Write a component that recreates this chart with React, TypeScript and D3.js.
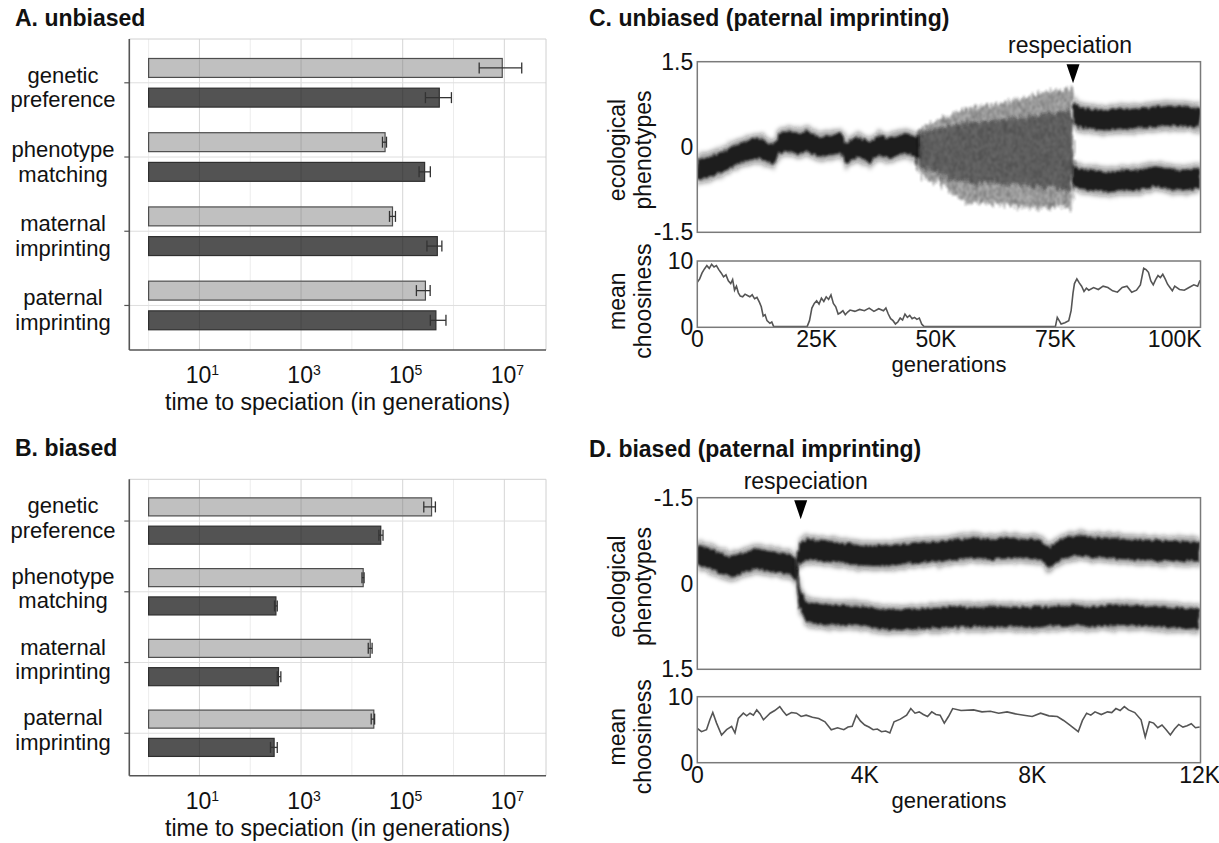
import React from 'react'
import * as d3 from 'd3'

const FONT = '"Liberation Sans", Arial, Helvetica, sans-serif'
const FS = 23

// ---- panels A / B : time to speciation ----
const categories = [
  ['genetic', 'preference'],
  ['phenotype', 'matching'],
  ['maternal', 'imprinting'],
  ['paternal', 'imprinting'],
]
const majorExp = [1, 3, 5, 7]
const minorExp = [0, 2, 4, 6]

const unbiasedLight = [9.1e6, 4.5e4, 6.3e4, 2.8e5]
const unbiasedLightLo = [3.2e6, 4.0e4, 5.5e4, 1.86e5]
const unbiasedLightHi = [2.2e7, 4.8e4, 7.2e4, 3.47e5]
const unbiasedDark = [5.25e5, 2.7e5, 4.8e5, 4.5e5]
const unbiasedDarkLo = [2.8e5, 2.1e5, 3.0e5, 3.5e5]
const unbiasedDarkHi = [9.1e5, 3.5e5, 5.9e5, 7.1e5]

const biasedLight = [3.7e5, 1.67e4, 2.3e4, 2.7e4]
const biasedLightLo = [2.6e5, 1.58e4, 2.1e4, 2.4e4]
const biasedLightHi = [4.4e5, 1.74e4, 2.5e4, 2.8e4]
const biasedDark = [3.7e4, 320, 360, 295]
const biasedDarkLo = [3.4e4, 300, 340, 250]
const biasedDarkHi = [4.1e4, 340, 400, 340]

// ---- panel C : unbiased, paternal imprinting (generations in K) ----
const phenoCSingle = [
  [0, -0.4], [2, -0.36], [4, -0.3], [5.4, -0.26], [7, -0.18], [8.9, -0.11], [10.5, -0.06],
  [12.4, -0.02], [13.5, -0.04], [14.5, -0.08], [15.9, -0.14], [16.5, -0.05], [17.3, 0.06],
  [18.5, 0.1], [20.1, 0.09], [21.5, 0.05], [22.9, 0.12], [24, 0.06], [25.7, 0.0], [27, 0.02],
  [28.5, 0.03], [29.9, 0.09], [30.6, 0.0], [31.3, -0.14], [32.3, -0.05], [33.4, 0.0],
  [34.8, -0.04], [36.2, -0.11], [37.2, -0.02], [38.3, 0.03], [39.7, -0.02], [41.1, 0.0],
  [42.5, 0.04], [43.9, 0.06], [45, 0.02], [46.5, 0.0],
]
const spreadGensC = [46, 48, 51, 54.4, 57.9, 61.4, 64.9, 68.4, 71.9, 75.4, 78.6]
const spreadTopC = [0.26, 0.38, 0.5, 0.62, 0.71, 0.74, 0.8, 0.86, 0.94, 1.0, 1.05]
const spreadBottomC = [-0.4, -0.55, -0.64, -0.87, -0.99, -0.99, -1.02, -1.05, -1.08, -1.05, -1.12]
const spreadCoreTopC = [0.2, 0.26, 0.34, 0.4, 0.44, 0.46, 0.5, 0.53, 0.56, 0.6, 0.64]
const spreadCoreBottomC = [-0.32, -0.4, -0.48, -0.58, -0.62, -0.64, -0.66, -0.68, -0.7, -0.72, -0.76]
const phenoCUpper = [
  [78.7, 0.62], [80, 0.52], [82, 0.5], [84, 0.48], [86, 0.47], [88, 0.5], [90, 0.49],
  [92, 0.5], [94, 0.52], [96, 0.53], [98, 0.55], [100, 0.55], [102, 0.54], [104, 0.52], [105.4, 0.52],
]
const phenoCLower = [
  [78.7, -0.5], [80, -0.56], [82, -0.58], [84, -0.6], [86, -0.62], [88, -0.6], [90, -0.58],
  [92, -0.58], [94, -0.55], [96, -0.52], [98, -0.55], [100, -0.57], [102, -0.58], [104, -0.56], [105.4, -0.56],
]
const choosinessC = [
  [0, 6.8], [0.5, 7.3], [1, 8.2], [1.5, 8.8], [2, 9.3], [2.5, 8.9], [3, 9.5], [3.5, 9.1], [4, 9.3],
  [4.5, 8.7], [5, 8.2], [5.5, 7.6], [6, 7.9], [6.5, 7.0], [7, 6.6], [7.4, 7.2], [7.8, 5.6], [8.2, 6.2],
  [8.6, 5.2], [9, 4.7], [9.5, 4.6], [10, 5.0], [10.5, 4.8], [11, 4.6], [11.5, 4.9], [12, 4.3],
  [12.5, 4.5], [13, 3.8], [13.4, 3.1], [13.8, 1.7], [14.2, 1.9], [14.6, 1.0], [15.2, 0.6], [15.6, 0.8],
  [16, 0.1], [23, 0.1], [23.5, 1.0], [24, 2.9], [24.5, 3.6], [25, 4.0], [25.5, 3.5], [26, 4.4],
  [26.5, 3.9], [27, 4.6], [27.5, 4.2], [28, 4.9], [28.5, 3.6], [29, 3.1], [29.5, 2.0], [30, 2.2],
  [30.5, 2.5], [31, 1.9], [31.5, 2.3], [32, 2.6], [33, 2.4], [34, 2.7], [35, 2.5], [36, 2.9],
  [37, 2.4], [38, 2.8], [39, 2.5], [39.5, 2.9], [40, 2.0], [40.5, 1.3], [41, 1.0], [41.5, 0.5],
  [42, 0.8], [42.5, 1.4], [43, 1.1], [43.5, 2.0], [44, 1.5], [44.5, 1.8], [45, 1.3], [45.5, 1.5],
  [46, 1.2], [46.5, 1.4], [47, 0.5], [47.5, 0.1], [75, 0.1], [75.4, 1.5], [75.8, 1.0], [76.2, 0.5],
  [77, 0.7], [77.8, 1.0], [78.3, 2.5], [78.7, 5.2], [79, 6.6], [79.5, 7.3], [80, 6.7], [80.5, 6.2],
  [81, 5.4], [81.5, 5.9], [82, 5.6], [83, 6.0], [84, 5.7], [85, 6.2], [86, 6.0], [87, 5.5], [88, 5.3],
  [89, 6.0], [90, 6.2], [91, 5.3], [92, 5.6], [92.8, 6.4], [93.5, 8.9], [94, 8.7], [94.5, 8.3],
  [95, 7.0], [95.5, 6.4], [96, 7.2], [96.5, 7.8], [97, 7.5], [97.5, 8.0], [98, 7.3], [98.5, 6.5],
  [99, 6.0], [99.5, 5.5], [100, 6.2], [101, 5.7], [102, 5.6], [103, 6.0], [104, 6.4], [104.8, 6.2], [105.3, 7.1],
]

// ---- panel D : biased, paternal imprinting (generations in K) ----
const phenoDSingle = [
  [0, -0.5], [0.2, -0.46], [0.4, -0.41], [0.6, -0.33], [0.8, -0.29], [1.0, -0.33], [1.2, -0.38],
  [1.4, -0.44], [1.6, -0.4], [1.8, -0.38], [2.0, -0.36], [2.2, -0.33], [2.35, -0.25],
]
const phenoDUpper = [
  [2.35, -0.25], [2.45, -0.52], [2.6, -0.6], [3.0, -0.57], [3.4, -0.54], [3.8, -0.5], [4.2, -0.48],
  [4.6, -0.49], [5.0, -0.52], [5.4, -0.54], [5.8, -0.56], [6.2, -0.6], [6.6, -0.62], [7.0, -0.6],
  [7.4, -0.62], [7.8, -0.61], [8.2, -0.59], [8.4, -0.45], [8.6, -0.55], [8.8, -0.62], [9.1, -0.67],
  [9.4, -0.64], [9.8, -0.62], [10.2, -0.6], [10.6, -0.59], [11.1, -0.57], [11.5, -0.57], [12.0, -0.56],
]
const phenoDLower = [
  [2.35, -0.25], [2.45, 0.25], [2.6, 0.5], [3.0, 0.54], [3.4, 0.55], [3.8, 0.56], [4.2, 0.6],
  [4.6, 0.64], [5.0, 0.63], [5.4, 0.61], [5.8, 0.6], [6.2, 0.58], [6.6, 0.59], [7.0, 0.58],
  [7.4, 0.58], [7.8, 0.59], [8.2, 0.58], [8.6, 0.57], [9.0, 0.56], [9.4, 0.58], [9.8, 0.56],
  [10.2, 0.55], [10.6, 0.57], [11.1, 0.58], [11.5, 0.6], [12.0, 0.62],
]
const choosinessD = [
  [0, 5.2], [0.1, 4.7], [0.22, 5.0], [0.3, 6.5], [0.37, 7.6], [0.46, 6.0], [0.58, 4.2], [0.7, 5.0],
  [0.82, 5.5], [0.9, 4.5], [0.98, 6.7], [1.1, 7.5], [1.18, 7.1], [1.26, 7.5], [1.34, 7.2], [1.42, 8.0],
  [1.5, 7.4], [1.58, 6.5], [1.66, 7.0], [1.74, 7.5], [1.85, 7.9], [1.97, 8.5], [2.05, 7.8], [2.13, 7.2],
  [2.25, 7.6], [2.37, 7.5], [2.48, 7.0], [2.6, 7.2], [2.75, 6.9], [2.9, 6.7], [3.05, 6.2], [3.2, 5.0],
  [3.35, 5.3], [3.5, 5.0], [3.6, 5.4], [3.7, 5.5], [3.8, 7.2], [3.9, 6.3], [4.0, 5.7], [4.1, 5.4],
  [4.2, 5.0], [4.3, 5.1], [4.4, 4.7], [4.5, 4.8], [4.6, 4.5], [4.7, 6.2], [4.85, 6.6], [5.0, 7.2],
  [5.1, 8.2], [5.2, 7.5], [5.3, 7.7], [5.4, 7.3], [5.5, 7.0], [5.6, 7.7], [5.7, 7.3], [5.8, 7.2],
  [5.9, 6.0], [6.0, 7.0], [6.1, 8.2], [6.3, 7.9], [6.6, 8.0], [6.8, 7.7], [7.0, 7.8], [7.2, 7.5],
  [7.4, 7.7], [7.6, 7.4], [7.8, 7.2], [8.0, 7.0], [8.2, 7.5], [8.4, 7.1], [8.6, 7.0], [8.75, 6.4],
  [8.9, 5.7], [9.0, 5.2], [9.1, 4.7], [9.2, 6.4], [9.3, 7.5], [9.4, 7.2], [9.5, 7.7], [9.65, 7.3],
  [9.8, 7.7], [9.9, 7.6], [10.0, 8.2], [10.1, 7.9], [10.2, 8.5], [10.3, 8.0], [10.45, 7.6], [10.6, 6.5],
  [10.7, 3.9], [10.8, 6.2], [10.9, 6.0], [11.0, 5.3], [11.1, 5.7], [11.2, 5.0], [11.3, 4.2], [11.4, 5.1],
  [11.5, 5.8], [11.6, 5.4], [11.7, 5.6], [11.8, 5.9], [11.9, 5.3], [12.0, 5.4],
]

const ticksC = [0, 25, 50, 75, 100]
const ticksD = [0, 4, 8, 12]

// band look: a soft halo and a dark core
const bandLayers = [
  { hw: 15, op: 0.4, f: 'soft' },
  { hw: 10, op: 0.9, f: 'rough' },
]

function BarPanel(props: any) {
  const { title, titleY, top, bottom, light, lightLo, lightHi, dark, darkLo, darkHi, labelShift } = props
  const x = d3.scaleLog().domain([10 ** -0.38, 10 ** 7.82]).range([129.3, 546])
  const y = d3.scaleLinear().domain([-0.59, 3.6]).range([top, bottom])
  const [x0, x1] = x.range()
  const barH = y(0.255) - y(0)
  const series = [
    { key: 'l', vals: light, lo: lightLo, hi: lightHi, off: -0.2, fill: '#c0c0c0', stroke: '#4d4d4d' },
    { key: 'd', vals: dark, lo: darkLo, hi: darkHi, off: 0.2, fill: '#535353', stroke: '#2f2f2f' },
  ]
  return (
    <g>
      <text x={15} y={titleY} fontWeight="bold" fontSize={FS}>{title}</text>
      {minorExp.map((e) => (
        <line key={'mi' + e} x1={x(10 ** e)} x2={x(10 ** e)} y1={top} y2={bottom} stroke="#ececec" />
      ))}
      {majorExp.map((e) => (
        <line key={'ma' + e} x1={x(10 ** e)} x2={x(10 ** e)} y1={top} y2={bottom} stroke="#d5d5d5" />
      ))}
      {categories.map((c, i) => (
        <line key={'h' + i} x1={x0} x2={x1} y1={y(i)} y2={y(i)} stroke="#dedede" />
      ))}
      <line x1={x0} x2={x1} y1={top} y2={top} stroke="#d0d0d0" />
      <line x1={x1} x2={x1} y1={top} y2={bottom} stroke="#d0d0d0" />

      {series.map((s) =>
        s.vals.map((v: number, i: number) => {
          const cy = y(i + s.off)
          return (
            <g key={s.key + i}>
              <rect x={x(1)} y={cy - barH / 2} width={x(v) - x(1)} height={barH}
                fill={s.fill} stroke={s.stroke} strokeWidth={1.2} />
              {majorExp.filter((e) => 10 ** e < v).map((e) => (
                <line key={e} x1={x(10 ** e)} x2={x(10 ** e)} y1={cy - barH / 2 + 1} y2={cy + barH / 2 - 1}
                  stroke="#000" strokeOpacity={0.12} />
              ))}
              <line x1={x(s.lo[i])} x2={x(s.hi[i])} y1={cy} y2={cy} stroke="#333" strokeWidth={1.3} />
              <line x1={x(s.lo[i])} x2={x(s.lo[i])} y1={cy - 5.5} y2={cy + 5.5} stroke="#333" strokeWidth={1.3} />
              <line x1={x(s.hi[i])} x2={x(s.hi[i])} y1={cy - 5.5} y2={cy + 5.5} stroke="#333" strokeWidth={1.3} />
            </g>
          )
        })
      )}

      <line x1={x0} x2={x0} y1={top} y2={bottom} stroke="#555" strokeWidth={1.6} />
      <line x1={x0} x2={x1} y1={bottom} y2={bottom} stroke="#555" strokeWidth={1.6} />
      {categories.map((c, i) => (
        <line key={'t' + i} x1={x0 - 5} x2={x0} y1={y(i)} y2={y(i)} stroke="#555" strokeWidth={1.2} />
      ))}

      {categories.map((c, i) => (
        <text key={'c' + i} x={63} y={y(i) + labelShift} textAnchor="middle" fontSize={22}>
          <tspan x={63}>{c[0]}</tspan>
          <tspan x={63} dy={24.5}>{c[1]}</tspan>
        </text>
      ))}

      {majorExp.map((e) => (
        <text key={'tl' + e} x={x(10 ** e) + 3} y={bottom + 33} textAnchor="middle" fontSize={FS}>
          10<tspan fontSize={14} dy={-8}>{e}</tspan>
        </text>
      ))}
      <text x={(x0 + x1) / 2} y={bottom + 60} textAnchor="middle" fontSize={FS}>
        time to speciation (in generations)
      </text>
    </g>
  )
}

function TracePanel(props: any) {
  const { id, title, titleY, xMax, ticks, upper, lower, invert, bands, spread, choosiness, resp, respDx, upTicks } = props
  const x = d3.scaleLinear().domain([0, xMax]).range([697.3, 1200.5])
  const yU = d3.scaleLinear().domain([-1.5, 1.5]).range(invert ? [upper[0], upper[1]] : [upper[1], upper[0]])
  const yL = d3.scaleLinear().domain([0, 10]).range([lower[1], lower[0]])
  const [x0, x1] = x.range()

  const bandArea = (hw: number) =>
    d3.area<number[]>()
      .x((d) => x(d[0]))
      .y0((d) => yU(d[1]) - hw)
      .y1((d) => yU(d[1]) + hw)

  const spreadArea = (tops: number[], bots: number[]) =>
    d3.area<number>()
      .x((g) => x(g))
      .y0((g, i) => yU(tops[i]))
      .y1((g, i) => yU(bots[i]))
      .curve(d3.curveMonotoneX)

  const line = d3.line<number[]>().x((d) => x(d[0])).y((d) => yL(d[1]))
  const tipX = x(resp)
  const midU = (upper[0] + upper[1]) / 2
  const midL = (lower[0] + lower[1]) / 2

  return (
    <g>
      <defs>
        <clipPath id={id + 'u'}>
          <rect x={x0} y={upper[0]} width={x1 - x0} height={upper[1] - upper[0]} />
        </clipPath>
        <clipPath id={id + 'l'}>
          <rect x={x0} y={lower[0]} width={x1 - x0} height={lower[1] - lower[0]} />
        </clipPath>
      </defs>
      <text x={589} y={titleY} fontWeight="bold" fontSize={FS}>{title}</text>

      <g clipPath={`url(#${id}u)`}>
        {spread && (
          <g>
            <path d={spreadArea(spread.top, spread.bottom)(spread.gens) || ''} fill="#333" fillOpacity={0.4} filter="url(#speck)" />
            <path d={spreadArea(spread.top, spread.bottom)(spread.gens) || ''} fill="url(#streaks)" filter="url(#speck)" />
            <path d={spreadArea(spread.coreTop, spread.coreBottom)(spread.gens) || ''} fill="#222" fillOpacity={0.5} filter="url(#speck)" />
          </g>
        )}
        {bands.map((b: number[][], bi: number) =>
          bandLayers.map((l, li) => (
            <path key={bi + '-' + li} d={bandArea(l.hw)(b) || ''} fill="#111" fillOpacity={l.op}
              filter={`url(#${l.f})`} />
          ))
        )}
      </g>
      <rect x={x0} y={upper[0]} width={x1 - x0} height={upper[1] - upper[0]} fill="none" stroke="#7a7a7a" strokeWidth={1.5} />

      <path d={`M${tipX - 6.5},${upper[0] + 2.5}L${tipX + 6.5},${upper[0] + 2.5}L${tipX},${upper[0] + 21.5}Z`} fill="#000" />
      <text x={tipX + respDx} y={upper[0] - 8.5} textAnchor="middle" fontSize={FS}>respeciation</text>

      <g clipPath={`url(#${id}l)`}>
        <path d={line(choosiness) || ''} fill="none" stroke="#555" strokeWidth={1.6} />
      </g>
      <rect x={x0} y={lower[0]} width={x1 - x0} height={lower[1] - lower[0]} fill="none" stroke="#7a7a7a" strokeWidth={1.5} />

      {upTicks.map((t: number) => (
        <text key={'u' + t} x={x0 - 4} y={yU(t)} textAnchor="end" dominantBaseline="central" fontSize={FS}>
          {t === 0 ? '0' : t.toFixed(1)}
        </text>
      ))}
      {[10, 0].map((t) => (
        <text key={'l' + t} x={x0 - 4} y={yL(t)} textAnchor="end" dominantBaseline="central" fontSize={FS}>
          {t}
        </text>
      ))}
      {ticks.map((t: number) => (
        <text key={'x' + t} x={x(t)} y={lower[1] + 20} textAnchor="middle" fontSize={FS}>
          {t === 0 ? '0' : t + 'K'}
        </text>
      ))}
      <text x={(x0 + x1) / 2} y={lower[1] + 45} textAnchor="middle" fontSize={22}>generations</text>

      <text transform={`translate(625,${midU + 3}) rotate(-90)`} textAnchor="middle" fontSize={FS}>ecological</text>
      <text transform={`translate(651,${midU + 3}) rotate(-90)`} textAnchor="middle" fontSize={FS}>phenotypes</text>
      <text transform={`translate(625,${midL + 7}) rotate(-90)`} textAnchor="middle" fontSize={FS}>mean</text>
      <text transform={`translate(651,${midL + 7}) rotate(-90)`} textAnchor="middle" fontSize={FS}>choosiness</text>
    </g>
  )
}

export default function App() {
  return (
    <svg width={1219} height={843} style={{ position: 'absolute', left: 0, top: 0, background: '#fff' }}
      fontFamily={FONT} fill="#111">
      <defs>
        <pattern id="streaks" width={5} height={6} patternUnits="userSpaceOnUse">
          <line x1={0.5} x2={0.5} y1={0} y2={6} stroke="#000" strokeOpacity={0.28} />
          <line x1={2.5} x2={2.5} y1={0} y2={6} stroke="#000" strokeOpacity={0.12} />
          <line x1={3.5} x2={3.5} y1={0} y2={6} stroke="#000" strokeOpacity={0.2} />
        </pattern>
        <filter id="rough" x="-5%" y="-30%" width="110%" height="160%">
          <feTurbulence type="fractalNoise" baseFrequency="0.5 0.06" numOctaves={2} seed={3} result="n" />
          <feDisplacementMap in="SourceGraphic" in2="n" scale={6} xChannelSelector="R" yChannelSelector="G" result="d" />
          <feGaussianBlur in="d" stdDeviation={1.1} />
        </filter>
        <filter id="soft" x="-5%" y="-30%" width="110%" height="160%">
          <feTurbulence type="fractalNoise" baseFrequency="0.6 0.05" numOctaves={2} seed={7} result="n" />
          <feDisplacementMap in="SourceGraphic" in2="n" scale={8} xChannelSelector="R" yChannelSelector="G" result="d" />
          <feGaussianBlur in="d" stdDeviation={2.2} />
        </filter>
        <filter id="speck" x="-5%" y="-10%" width="110%" height="120%">
          <feTurbulence type="fractalNoise" baseFrequency="0.7 0.04" numOctaves={2} seed={11} result="n" />
          <feDisplacementMap in="SourceGraphic" in2="n" scale={14} xChannelSelector="R" yChannelSelector="G" result="d" />
          <feGaussianBlur in="d" stdDeviation={0.8} />
        </filter>
      </defs>
      <rect width={1219} height={843} fill="#fff" />

      <BarPanel title="A. unbiased" titleY={26} top={39} bottom={350}
        light={unbiasedLight} lightLo={unbiasedLightLo} lightHi={unbiasedLightHi}
        dark={unbiasedDark} darkLo={unbiasedDarkLo} darkHi={unbiasedDarkHi} labelShift={0} />
      <BarPanel title="B. biased" titleY={456} top={479.3} bottom={775.7}
        light={biasedLight} lightLo={biasedLightLo} lightHi={biasedLightHi}
        dark={biasedDark} darkLo={biasedDarkLo} darkHi={biasedDarkHi} labelShift={-8} />

      <TracePanel id="pc" title="C. unbiased (paternal imprinting)" titleY={26} xMax={105.4} ticks={ticksC}
        upper={[61.7, 232.3]} lower={[261, 327.3]} invert={false}
        bands={[phenoCSingle, phenoCUpper, phenoCLower]}
        spread={{ gens: spreadGensC, top: spreadTopC, bottom: spreadBottomC, coreTop: spreadCoreTopC, coreBottom: spreadCoreBottomC }}
        choosiness={choosinessC} resp={78.7} respDx={-3} upTicks={[1.5, 0, -1.5]} />
      <TracePanel id="pd" title="D. biased (paternal imprinting)" titleY={457} xMax={12.02} ticks={ticksD}
        upper={[497.7, 669.3]} lower={[696.7, 762.7]} invert={true}
        bands={[phenoDSingle, phenoDUpper, phenoDLower]} spread={null}
        choosiness={choosinessD} resp={2.47} respDx={5} upTicks={[-1.5, 0, 1.5]} />
    </svg>
  )
}
